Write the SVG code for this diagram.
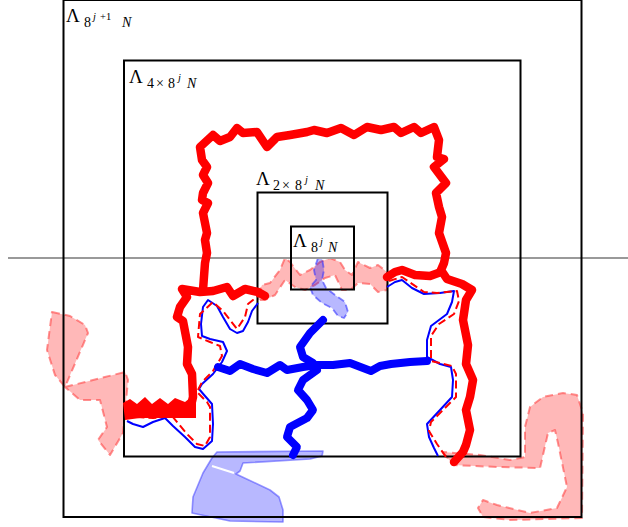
<svg xmlns="http://www.w3.org/2000/svg" width="628" height="527" viewBox="0 0 628 527">
<style>
.box{fill:none;stroke:#000;stroke-width:2}
.lbl{font-family:"Liberation Serif","DejaVu Serif",serif;fill:#000}
.L{font-size:19px}
.s{font-size:14px}
.ss{font-size:10.5px;font-style:italic}
.n{font-size:14px;font-style:italic}
.pink{fill:#ff0000;fill-opacity:0.28;stroke:#ff4444;stroke-opacity:0.6;stroke-width:2;stroke-dasharray:8,5;stroke-linejoin:round}
.lblue{fill:#0000ff;fill-opacity:0.28;stroke:#3333ff;stroke-opacity:0.5;stroke-width:1.6;stroke-linejoin:round}
.lbluedash{fill:#0000ff;fill-opacity:0.28;stroke:#3333ff;stroke-opacity:0.6;stroke-width:1.8;stroke-dasharray:7,4;stroke-linejoin:round}
.rthick{fill:none;stroke:#ff0000;stroke-width:8.5;stroke-linejoin:round;stroke-linecap:round}
.bthick{fill:none;stroke:#0000ff;stroke-width:8;stroke-linejoin:round;stroke-linecap:round}
.bthin{fill:none;stroke:#0000ff;stroke-width:2;stroke-linejoin:round}
.rdash{fill:none;stroke:#ff0000;stroke-width:2;stroke-dasharray:8,4;stroke-linejoin:round}
</style>
<rect width="628" height="527" fill="#fff"/>

<g id="shaded">
<path class="pink" d="M52,312 L70,316 L85,325 L88,333 L65,387 L55,375 L47,350 Z"/>
<path class="pink" d="M65,387 L125,372 L128,380 L123,433 L110,455 L98,440 L107,427 L100,400 L80,400 Z"/>
<path class="pink" d="M443,452 L453,465 L497,467 L540,468 L548,433 L555,430 L558,443 L567,487 L557,508 L530,513 L497,505 L483,500 L478,508 L483,517 L510,520 L582,518 L583,413 L577,395 L563,393 L543,397 L530,407 L525,427 L525,457 L510,460 L480,455 Z"/>
<path class="pink" d="M258,295 L262,285 L270,283 L280,270 L285,258 L290,262 L300,275 L310,270 L320,262 L330,258 L340,262 L345,270 L352,275 L358,262 L370,268 L378,265 L387,272 L387,290 L378,292 L370,284 L358,283 L350,290 L342,290 L335,275 L325,278 L315,285 L305,290 L295,287 L285,280 L275,295 L265,300 L258,300 Z"/>
<path class="lbluedash" d="M318,258 L314,270 L316,280 L310,287 L313,295 L322,303 L332,308 L338,316 L344,318 L348,312 L345,302 L335,295 L326,288 L322,280 L324,270 L322,258 Z"/>
<path class="lblue" d="M217,452 L323,451 L322,456 L310,459 L243,463 L240,471 L236,474 L270,490 L279,497 L283,510 L283,522 L230,521 L192,513 L193,497 L203,473 L212,458 Z"/>
<path d="M212,466 L234,473" stroke="#fff" stroke-width="2" fill="none"/>
</g>

<line x1="8" y1="258" x2="628" y2="258" stroke="#999" stroke-width="2"/>

<g id="box1"><rect class="box" x="63.5" y="0" width="518" height="517"/>
<text class="lbl"><tspan class="L" x="66" y="22">Λ</tspan><tspan class="s" x="84" y="27">8</tspan><tspan class="ss" x="93" y="20">j</tspan><tspan class="ss" style="font-style:normal" x="100" y="20">+1</tspan><tspan class="n" x="122" y="27">N</tspan></text></g>
<g id="box2"><rect class="box" x="124" y="60.5" width="396.5" height="396"/>
<text class="lbl"><tspan class="L" x="129" y="83">Λ</tspan><tspan class="s" x="147" y="88">4</tspan><tspan class="s" x="156" y="88">×</tspan><tspan class="s" x="168" y="88">8</tspan><tspan class="ss" x="178" y="81">j</tspan><tspan class="n" x="187" y="88">N</tspan></text></g>
<g id="box3"><rect class="box" x="257.5" y="192.5" width="130" height="131"/>
<text class="lbl"><tspan class="L" x="256" y="185">Λ</tspan><tspan class="s" x="273" y="190">2</tspan><tspan class="s" x="282" y="190">×</tspan><tspan class="s" x="295" y="190">8</tspan><tspan class="ss" x="305" y="183">j</tspan><tspan class="n" x="315" y="190">N</tspan></text></g>
<g id="box4"><rect class="box" x="291" y="226.5" width="63" height="63"/>
<text class="lbl"><tspan class="L" x="293" y="247">Λ</tspan><tspan class="s" x="311" y="252">8</tspan><tspan class="ss" x="320" y="245">j</tspan><tspan class="n" x="328" y="252">N</tspan></text></g>

<g id="connectors">
<path class="rthick" d="M203,290 L205,263 L207,253 L205,240 L207,233 L203,213 L208,203 L202,200 L203,193 L208,183 L203,175 L207,167 L202,160 L200,147 L213,135 L220,141 L230,137 L237,128 L243,133 L257,132 L267,147 L277,137 L290,135 L307,132 L314,130 L327,133 L341,128 L354,135 L367,127 L381,130 L394,127 L401,133 L414,127 L421,133 L434,127 L439,140 L437,157 L444,159 L434,167 L446,183 L436,193 L439,207 L442,217 L439,233 L446,253 L444,263 L441,270 L447,279 L462,284 L472,290 L466,300 L463,320 L468,345 L466,364 L473,380 L470,397 L466,410 L470,430 L466,445 L463,452 L454,462"/>
<path class="rthick" d="M387,277 L395,272 L402,270 L415,275 L430,276 L441,272"/>
<path class="rthick" d="M265,296 L258,292 L245,289 L233,296 L227,287 L213,291 L200,292 L182,289 L187,297 L180,307 L177,317 L183,321 L188,347 L187,364 L192,374 L193,397 L190,410"/>
<path fill="#ff0000" d="M123,403 L130,399 L137,404 L145,397 L152,404 L160,398 L168,404 L175,398 L185,402 L190,398 L196,400 L196,418 L140,418 L125,420 Z"/>
<path class="bthin" d="M258,303 L252,311 L248,322 L243,331 L237,333 L230,329 L223,317 L217,306 L208,300 L203,307 L201,324 L202,336 L210,339 L223,342 L227,351 L222,362 L213,374 L202,384 L199,389 L205,396 L212,404 L213,424 L212,441 L203,449 L195,447 L185,437 L173,426 L165,418 L153,422 L143,427 L133,424 L127,421"/>
<path class="rdash" d="M263,292 L248,304 L245,317 L237,329 L223,311 L213,302 L200,314 L198,337 L210,342 L220,346 L222,356 L213,371 L202,382 L197,392 L207,402 L210,407 L210,437 L205,446 L197,444 L187,434 L172,416 L153,418 L137,417 L128,417"/>
<path class="bthin" d="M387,287 L395,282 L402,280 L412,288 L424,294 L440,293 L454,291 L452,302 L447,314 L431,326 L427,340 L427,357 L440,364 L451,367 L453,380 L452,397 L440,410 L427,424 L429,437 L434,448 L438,456"/>
<path class="rdash" d="M389,281 L402,277 L424,292 L437,293 L457,291 L459,301 L454,314 L439,324 L431,336 L431,361 L452,366 L456,374 L456,397 L431,422 L429,431 L437,444 L446,457"/>
<path class="bthick" d="M323,320 L310,333 L300,347 L303,357 L313,363 L317,370 L303,380 L298,390 L307,400 L313,410 L307,418 L290,427 L287,437 L297,447 L293,455"/>
<path class="bthick" d="M218,367 L230,371 L240,364 L253,369 L267,373 L280,365 L287,370 L303,367 L317,365 L333,365 L350,363 L371,371 L380,366 L391,364 L410,362 L427,361"/>
</g>
</svg>
